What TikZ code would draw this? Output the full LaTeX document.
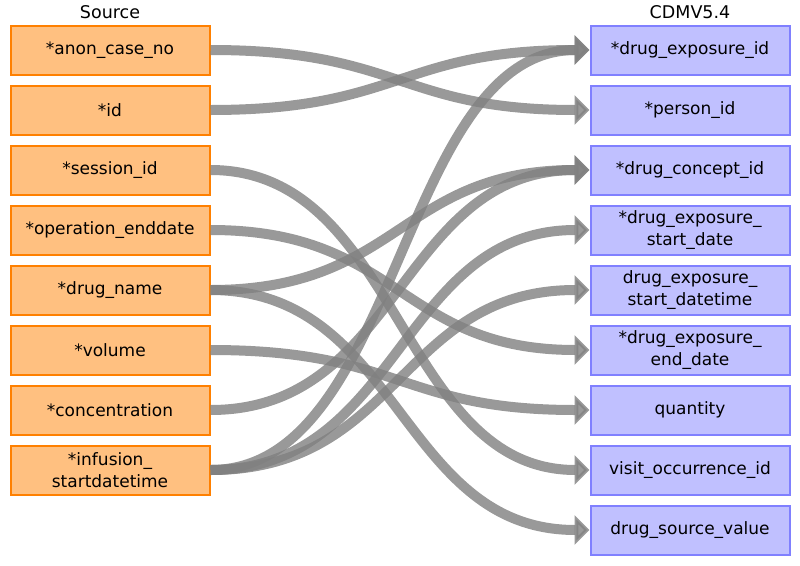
\documentclass[tikz,border=0pt]{standalone}
\usepackage{fontspec}
\setmainfont{DejaVu Sans}
\usetikzlibrary{arrows.meta}
\definecolor{srcfill}{HTML}{FFC080}
\definecolor{srcline}{HTML}{FF8000}
\definecolor{tgtfill}{HTML}{C0C0FF}
\definecolor{tgtline}{HTML}{8080FF}
\definecolor{edgegray}{HTML}{808080}
\begin{document}
\begin{tikzpicture}[x=1pt,y=-1pt,
  box/.style={rectangle,minimum width=199pt,minimum height=49pt,inner sep=0pt,
    line width=2pt,align=center,font=\fontsize{17}{21.5}\selectfont},
  srcbox/.style={box,fill=srcfill,draw=srcline},
  tgtbox/.style={box,fill=tgtfill,draw=tgtline},
  title/.style={font=\fontsize{17.5}{20}\selectfont},
  edge/.style={line width=10pt,draw=edgegray,opacity=0.8,
    -{Triangle[length=15pt,width=29pt]}}]
\useasboundingbox (0,0) rectangle (800,565);
\node[title] (srct) at (110,12) {Source};
\node[title] (tgtt) at (690,12) {CDMV5.4};
\node[srcbox] (s1) at (110,50) {*anon\_case\_no};
\node[srcbox] (s2) at (110,110) {*id};
\node[srcbox] (s3) at (110,170) {*session\_id};
\node[srcbox] (s4) at (110,230) {*operation\_enddate};
\node[srcbox] (s5) at (110,290) {*drug\_name};
\node[srcbox] (s6) at (110,350) {*volume};
\node[srcbox] (s7) at (110,410) {*concentration};
\node[srcbox] (s8) at (110,470) {*infusion\_\\startdatetime};
\node[tgtbox] (t1) at (690,50) {*drug\_exposure\_id};
\node[tgtbox] (t2) at (690,110) {*person\_id};
\node[tgtbox] (t3) at (690,170) {*drug\_concept\_id};
\node[tgtbox] (t4) at (690,230) {*drug\_exposure\_\\start\_date};
\node[tgtbox] (t5) at (690,290) {drug\_exposure\_\\start\_datetime};
\node[tgtbox] (t6) at (690,350) {*drug\_exposure\_\\end\_date};
\node[tgtbox] (t7) at (690,410) {quantity};
\node[tgtbox] (t8) at (690,470) {visit\_occurrence\_id};
\node[tgtbox] (t9) at (690,530) {drug\_source\_value};
\foreach \a/\b in {s1/t2,s2/t1,s3/t8,s4/t6,s5/t3,s5/t9,s6/t7,s7/t3,s8/t1,s8/t4,s8/t5}
  \draw[edge] (\a.east) .. controls +(190,0) and +(-190,0) .. (\b.west);
\end{tikzpicture}
\end{document}
